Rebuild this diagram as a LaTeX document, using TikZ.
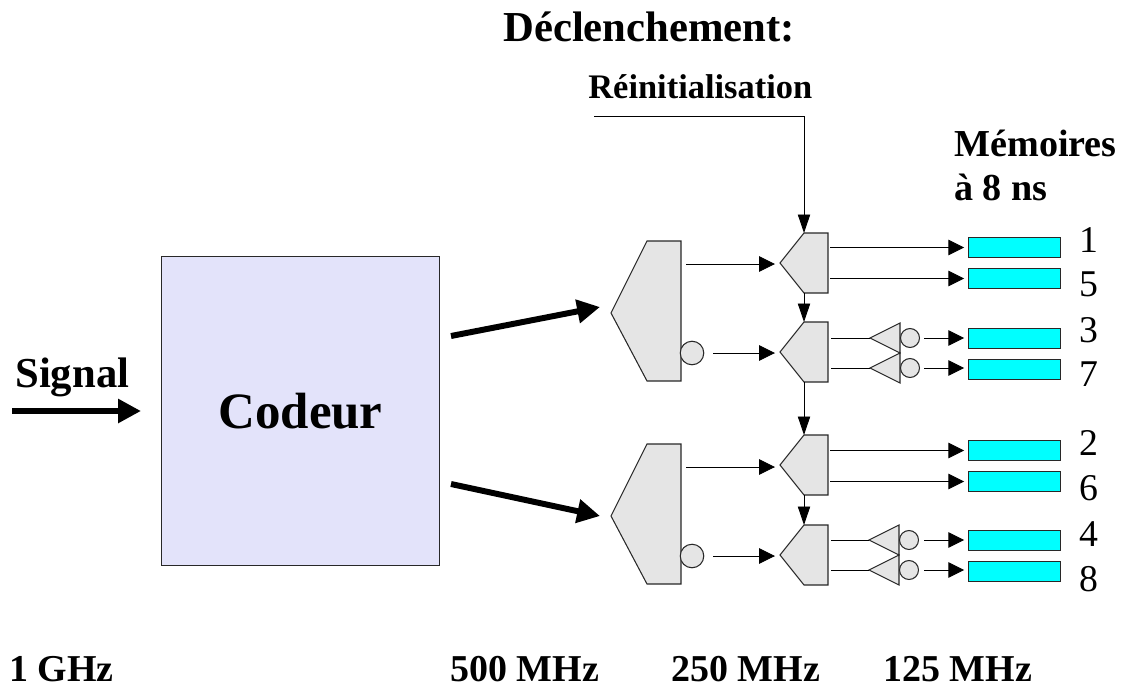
\documentclass[tikz,border=0pt]{standalone}
\usepackage{fontspec}
\setmainfont{Liberation Serif}
\usepackage{xcolor}
\usetikzlibrary{arrows.meta, shapes.geometric}
\definecolor{qgate}{RGB}{229, 229, 229}
\definecolor{qcodeur}{RGB}{227, 227, 250}
\definecolor{qline}{RGB}{40, 40, 40}
\definecolor{qmem}{RGB}{0, 255, 255}

\begin{document}
\begin{tikzpicture}[
    x=0.02cm, y=-0.02cm,
    porte/.style={draw=qline, fill=qgate, line width=0.6pt, line join=miter},
    inverseur/.style={draw=qline, fill=qgate, circle, inner sep=0pt, line width=0.6pt},
    memoire/.style={draw=qline, fill=qmem, line width=0.6pt, minimum width=52.7pt, minimum height=11.9pt, inner sep=0pt},
    codeur/.style={draw=qline, fill=qcodeur, line width=0.6pt, minimum width=158.2pt, minimum height=175.8pt, inner sep=0pt},
    fil/.style={draw=black, line width=0.5pt},
    fleche/.style={fil, -{Triangle[length=9pt, width=8.8pt]}},
    flechev/.style={fil, -{Triangle[length=10.5pt, width=7pt]}},
    grosse/.style={draw=black, line width=3.4pt, -{Triangle[length=13pt, width=13pt]}},
    titre/.style={font=\fontsize{24.3}{28}\selectfont\bfseries, inner sep=0pt, anchor=base west},
    etiquette/.style={font=\fontsize{19.6}{23}\selectfont\bfseries, inner sep=0pt, anchor=base west},
    moyen/.style={font=\fontsize{21.7}{26}\selectfont\bfseries, inner sep=0pt, anchor=base west},
    freq/.style={font=\fontsize{21.6}{26}\selectfont\bfseries, inner sep=0pt, anchor=base west},
    chiffre/.style={font=\fontsize{21.5}{26}\selectfont, inner sep=0pt}
]
    \useasboundingbox (0,0) rectangle (1125,686);

    % Coder
    \node[codeur] (codeur) at (300.5,411) {\fontsize{29}{34}\selectfont\bfseries Codeur};
    \coordinate (signalin) at (12,411);
    \coordinate (signalout) at (141,411);
    \draw[grosse] (signalin) -- (signalout);
    \node[titre] (signal) at (15,387) {Signal};

    % Big gates
    \foreach \name/\y/\d in {ga/241/66, gb/444/72} {
        \draw[porte] (611,\y+72) -- (647,\y) -- (681,\y) -- (681,\y+140) -- (647,\y+140) -- cycle;
        \coordinate (\name-in) at (600,\y+\d);
        \coordinate (\name-out) at (686,\y+23);
        \node[inverseur, minimum size=13.4pt] (\name-inv) at (692,\y+112) {};
    }

    % Small gates
    \foreach \name/\y in {da/233, db/322, dc/435, dd/525} {
        \draw[porte] (780,\y+30) -- (804,\y) -- (828,\y) -- (828,\y+60) -- (804,\y+60) -- cycle;
        \coordinate (\name-in) at (775,\y+30);
        \coordinate (\name-top) at (804,\y);
        \coordinate (\name-bot) at (804,\y+60);
    }

    % Inverting buffers
    \foreach \name/\x/\y in {ba/870/338, bb/870/368, bc/869/540, bd/869/570} {
        \draw[porte] (\x,\y) -- (\x+30,\y-15) -- (\x+30,\y+15) -- cycle;
        \coordinate (\name-in) at (\x,\y);
        \coordinate (\name-start) at (831,\y);
        \coordinate (\name-out) at (924,\y);
        \node[inverseur, minimum size=10.8pt] (\name-inv) at (\x+40,\y) {};
        \draw[fil] (\name-start) -- (\name-in);
    }

    % Memories
    \foreach \n/\y/\ty in {1/247.5/240, 5/278.5/284, 3/338.5/330, 7/369.5/374, 2/450.5/443, 6/481.5/488, 4/540.5/534, 8/571.5/579} {
        \node[memoire] (mem\n) at (1014.5,\y) {};
        \node[chiffre] (num\n) at (1089,\ty) {\n};
    }

    % Thick arrows
    \coordinate (codeurhaut) at (451,336);
    \coordinate (codeurbas) at (451,484);
    \draw[grosse] (codeurhaut) -- (ga-in);
    \draw[grosse] (codeurbas) -- (gb-in);

    % Clock line
    \coordinate (reinitin) at (594,116);
    \coordinate (reinitc) at (804,116);
    \draw[fil] (reinitin) -- (reinitc);
    \draw[flechev] (reinitc) -- (da-top);
    \draw[flechev] (da-bot) -- (db-top);
    \draw[flechev] (db-bot) -- (dc-top);
    \draw[flechev] (dc-bot) -- (dd-top);

    % Gate outputs
    \draw[fleche] (ga-out) -- (ga-out -| da-in);
    \draw[fleche] (gb-out) -- (gb-out -| dc-in);
    \draw[fleche, shorten <=5pt] (ga-inv.east) -- (ga-inv.east -| db-in);
    \draw[fleche, shorten <=5pt] (gb-inv.east) -- (gb-inv.east -| dd-in);
    \foreach \n in {1, 5, 2, 6} {
        \coordinate (start\n) at (830,0 |- mem\n.west);
        \draw[fleche, shorten >=2pt] (start\n) -- (mem\n.west);
    }
    \foreach \b/\n in {ba/3, bb/7, bc/4, bd/8} {
        \draw[fleche, shorten >=2pt] (\b-out) -- (\b-out -| mem\n.west);
    }

    % Labels
    \node[titre] (declenchement) at (503,42) {Déclenchement:};
    \node[etiquette] (reinit) at (588,98) {Réinitialisation};
    \node[moyen] (memoires) at (954,156) {Mémoires};
    \node[moyen] (huitns) at (954,200) {à 8 ns};
    \node[freq] (f1) at (9,681) {1 GHz};
    \node[freq] (f2) at (450,681) {500 MHz};
    \node[freq] (f3) at (671,681) {250 MHz};
    \node[freq] (f4) at (883,681) {125 MHz};
\end{tikzpicture}
\end{document}
